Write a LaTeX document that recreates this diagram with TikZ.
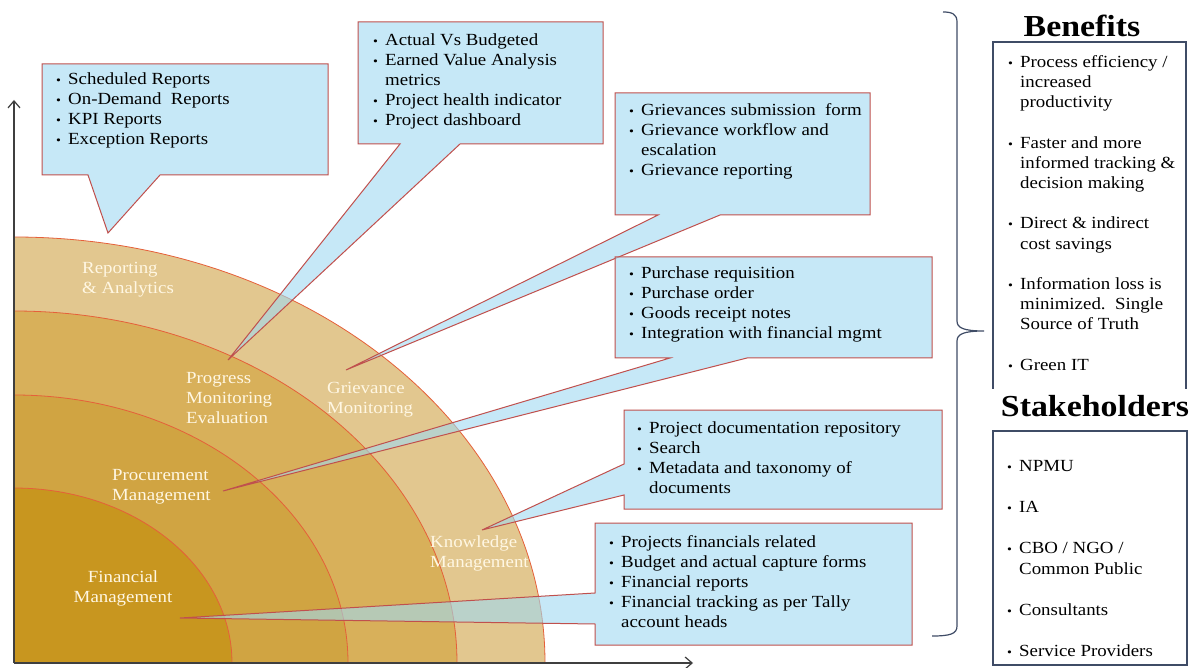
\documentclass[tikz,border=0pt]{standalone}
\usepackage{fontspec}
\setmainfont{Liberation Serif}[FakeStretch=1.11]
\usetikzlibrary{arrows.meta}

\definecolor{ringA}{HTML}{E2C78F}
\definecolor{ringB}{HTML}{D8B05A}
\definecolor{ringC}{HTML}{D0A442}
\definecolor{ringD}{HTML}{C8961F}
\definecolor{arcline}{HTML}{E5603A}
\definecolor{callfill}{RGB}{160,218,242}
\definecolor{callline}{HTML}{C0504D}
\definecolor{slate}{HTML}{3F4C66}
\definecolor{labeltext}{HTML}{FFF7E3}
\definecolor{axisgrey}{HTML}{3F3F3F}

% bullet list lines
\newcommand\bitem[1]{\strut\makebox[12pt][l]{{\fontsize{12.5}{12}\selectfont\textbullet}}#1}
\newcommand\bcont[1]{\strut\hspace*{12pt}#1}

\tikzset{
  ring/.style={draw=arcline, line width=0.8pt},
  ringlabel/.style={text=labeltext, font=\fontsize{17}{20}\selectfont, align=left, anchor=north west, inner sep=0pt},
  callout/.style={fill=callfill, fill opacity=0.6, draw=callline, line width=1pt, line join=miter},
  listtext/.style={font=\fontsize{17}{20}\selectfont, align=left, anchor=north west, inner sep=0pt, text=black},
  sidebox/.style={draw=slate, line width=1.2pt},
  heading/.style={font=\fontsize{30.5}{34}\selectfont\bfseries, anchor=base, inner sep=0pt},
  axis/.style={draw=axisgrey, line width=1.2pt, -{Straight Barb[length=7pt,width=12pt]}},
}

\begin{document}
\begin{tikzpicture}[x=1pt, y=-1pt]
\useasboundingbox (0,0) rectangle (1192,668);
\fill[white] (0,0) rectangle (1192,668);

% concentric quarter rings
\begin{scope}
  \clip (14,0) rectangle (700,663);
  \filldraw[ring, fill=ringA] (14,663) ellipse [x radius=531pt, y radius=426pt];
  \filldraw[ring, fill=ringB] (14,663) ellipse [x radius=443pt, y radius=352pt];
  \filldraw[ring, fill=ringC] (14,663) ellipse [x radius=334pt, y radius=268pt];
  \filldraw[ring, fill=ringD] (14,663) ellipse [x radius=218pt, y radius=175pt];
\end{scope}

% ring labels
\node[ringlabel] (rep)   at (82,259)  {\strut Reporting\\\strut\& Analytics};
\node[ringlabel] (prog)  at (186,369) {\strut Progress\\\strut Monitoring\\\strut Evaluation};
\node[ringlabel] (griev) at (327,379) {\strut Grievance\\\strut Monitoring};
\node[ringlabel] (proc)  at (112,466) {\strut Procurement\\\strut Management};
\node[ringlabel] (know)  at (430,533) {\strut Knowledge\\\strut Management};
\node[ringlabel, align=center, anchor=north] (fin) at (123,568) {\strut Financial\\\strut Management};

% callout pointer tips
\coordinate (tipRep)   at (108,233);
\coordinate (tipProg)  at (228,360);
\coordinate (tipGriev) at (346,370);
\coordinate (tipProc)  at (223,491);
\coordinate (tipKnow)  at (482,530);
\coordinate (tipFin)   at (180,618);

% callouts
\path[callout] (42,64) -- (328,64) -- (328,175) -- (160,175) -- (tipRep) -- (88,175) -- (42,175) -- cycle;
\path[callout] (358,22) -- (603,22) -- (603,144) -- (460,144) -- (tipProg) -- (400,144) -- (358,144) -- cycle;
\path[callout] (615,93) -- (870,93) -- (870,215) -- (720,215) -- (tipGriev) -- (658,215) -- (615,215) -- cycle;
\path[callout] (615,257) -- (932,257) -- (932,358) -- (747,358) -- (tipProc) -- (670,358) -- (615,358) -- cycle;
\path[callout] (624,410) -- (942,410) -- (942,509) -- (624,509) -- (624,495) -- (tipKnow) -- (624,464) -- cycle;
\path[callout] (595,523) -- (912,523) -- (912,645) -- (595,645) -- (595,624) -- (tipFin) -- (595,593) -- cycle;

\node[listtext] (repList) at (56,70) {\bitem{Scheduled Reports}\\\bitem{On-Demand\ \ Reports}\\\bitem{KPI Reports}\\\bitem{Exception Reports}};
\node[listtext] (progList) at (373,31) {\bitem{Actual Vs Budgeted}\\\bitem{Earned Value Analysis}\\\bcont{metrics}\\\bitem{Project health indicator}\\\bitem{Project dashboard}};
\node[listtext] (grievList) at (629,101) {\bitem{Grievances submission\ \ form}\\\bitem{Grievance workflow and}\\\bcont{escalation}\\\bitem{Grievance reporting}};
\node[listtext] (procList) at (629,264) {\bitem{Purchase requisition}\\\bitem{Purchase order}\\\bitem{Goods receipt notes}\\\bitem{Integration with financial mgmt}};
\node[listtext] (knowList) at (637,419) {\bitem{Project documentation repository}\\\bitem{Search}\\\bitem{Metadata and taxonomy of}\\\bcont{documents}};
\node[listtext] (finList) at (609,533) {\bitem{Projects financials related}\\\bitem{Budget and actual capture forms}\\\bitem{Financial reports}\\\bitem{Financial tracking as per Tally}\\\bcont{account heads}};

% axes
\coordinate (O) at (14,663);
\coordinate (yTop) at (14,100);
\coordinate (xEnd) at (693,663);
\draw[axis] (O) -- (yTop);
\draw[axis] (O) -- (xEnd);

% brace grouping the modules
\coordinate (braceTip) at (984,331);
\draw[slate, line width=1.2pt] (943,12) .. controls (952,12) and (957,14) .. (957,22) -- (957,321)
  .. controls (957,328) and (964,331) .. (braceTip)
  .. controls (964,331) and (957,334) .. (957,341) -- (957,626)
  .. controls (957,634) and (950,636) .. (932,636);

% benefits
\node[heading] (benHead) at (1082,37) {Benefits};
\draw[sidebox] (993,389) -- (993,42) -- (1186,42) -- (1186,389);
\node[listtext, font=\fontsize{17}{20.2}\selectfont] (benList) at (1008,53) {\bitem{Process efficiency /}\\\bcont{increased}\\\bcont{productivity}\\\strut\\
  \bitem{Faster and more}\\\bcont{informed tracking \&}\\\bcont{decision making}\\\strut\\
  \bitem{Direct \& indirect}\\\bcont{cost savings}\\\strut\\
  \bitem{Information loss is}\\\bcont{minimized.\ \ Single}\\\bcont{Source of Truth}\\\strut\\
  \bitem{Green IT}};

% stakeholders
\node[heading] (stkHead) at (1095,416) {Stakeholders};
\draw[sidebox] (993,431) rectangle (1187,665);
\node[listtext, font=\fontsize{17}{20.5}\selectfont] (stkList) at (1007,457) {\bitem{NPMU}\\\strut\\\bitem{IA}\\\strut\\
  \bitem{CBO / NGO /}\\\bcont{Common Public}\\\strut\\\bitem{Consultants}\\\strut\\\bitem{Service Providers}};
\end{tikzpicture}
\end{document}
